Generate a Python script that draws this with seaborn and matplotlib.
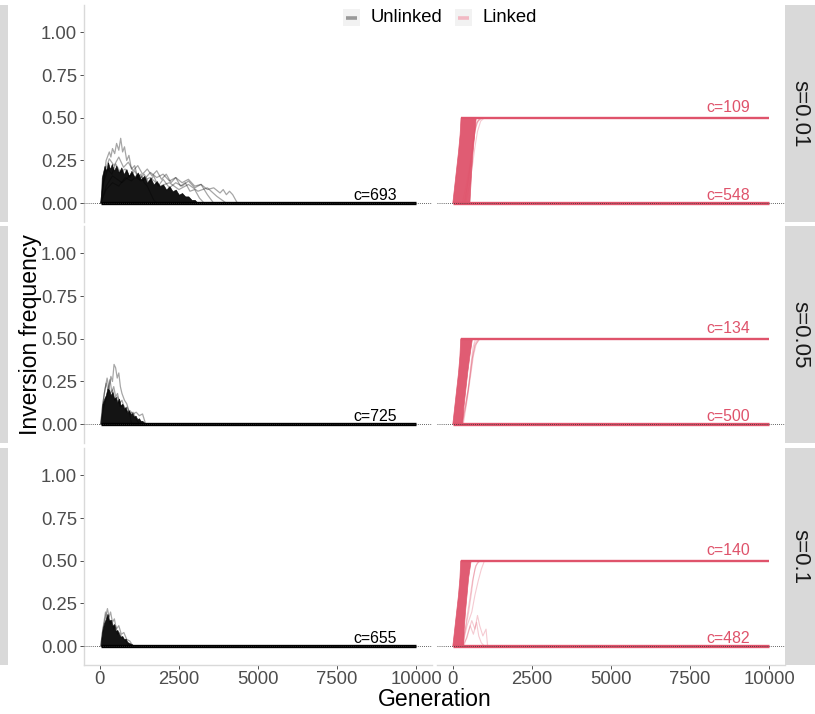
import numpy as np
import pandas as pd
import matplotlib
matplotlib.use("Agg")
import matplotlib.pyplot as plt
import seaborn as sns
from matplotlib.patches import Rectangle
from matplotlib.lines import Line2D

sns.set_theme(style="white")
plt.rcParams['font.family'] = ['Liberation Sans', 'DejaVu Sans']

# ---------------- data ----------------
s_labels = ["s=0.01", "s=0.05", "s=0.1"]
x_ticks = [0, 2500, 5000, 7500, 10000]
y_ticks = [0.0, 0.25, 0.50, 0.75, 1.00]
y_tick_labels = ["0.00", "0.25", "0.50", "0.75", "1.00"]
legend_labels = ["Unlinked", "Linked"]

count_unlinked = [693, 725, 655]
count_linked_fixed = [109, 134, 140]
count_linked_lost = [548, 500, 482]

# upper edge of the dense cloud of unlinked (black) trajectories
unl_env_gen_s001 = [30, 60, 100, 150, 200, 260, 320, 380, 450, 520, 600, 680, 760, 840, 920, 1000,
                    1100, 1200, 1300, 1400, 1500, 1600, 1700, 1800, 1900, 2000, 2100, 2200, 2300,
                    2400, 2500, 2600, 2700, 2800, 2900, 3000, 3100]
unl_env_frq_s001 = [0.0, 0.15, 0.18, 0.22, 0.19, 0.24, 0.20, 0.23, 0.19, 0.22, 0.18, 0.21, 0.17, 0.20,
                    0.16, 0.19, 0.15, 0.18, 0.14, 0.16, 0.12, 0.15, 0.11, 0.13, 0.10, 0.11, 0.08, 0.10,
                    0.07, 0.08, 0.05, 0.06, 0.04, 0.04, 0.02, 0.02, 0.0]
unl_env_gen_s005 = [30, 84, 140, 189, 240, 293, 345, 398, 450, 503, 555, 608, 660, 713, 765, 818, 870,
                    923, 975, 1027, 1080, 1132, 1185, 1237, 1290, 1342, 1400, 1447]
unl_env_frq_s005 = [0.0, 0.12, 0.15, 0.17, 0.21, 0.20, 0.17, 0.19, 0.15, 0.16, 0.13, 0.15, 0.11, 0.12,
                    0.09, 0.10, 0.07, 0.08, 0.06, 0.065, 0.045, 0.05, 0.03, 0.035, 0.02, 0.02, 0.01, 0.0]
unl_env_gen_s01 = [30, 52, 90, 136, 190, 241, 290, 346, 400, 451, 500, 556, 610, 660, 712, 765, 818,
                   870, 920, 975, 1030, 1080]
unl_env_frq_s01 = [0.0, 0.05, 0.10, 0.135, 0.16, 0.19, 0.15, 0.155, 0.12, 0.13, 0.09, 0.095, 0.07,
                   0.055, 0.06, 0.04, 0.045, 0.025, 0.02, 0.015, 0.01, 0.0]

# individual (lighter) unlinked trajectories that stand out above the cloud
unl_runs_s001 = [
    ([30, 100, 200, 300, 350, 400, 470, 530, 600, 660, 720, 780, 850, 920, 1000, 1100, 1200, 1300,
      1400, 1500, 1600, 1700, 1800],
     [0.0, 0.10, 0.25, 0.30, 0.27, 0.32, 0.29, 0.35, 0.31, 0.38, 0.30, 0.33, 0.25, 0.28, 0.20, 0.22,
      0.15, 0.17, 0.12, 0.10, 0.06, 0.02, 0.0]),
    ([30, 200, 400, 600, 800, 1000, 1200, 1400, 1600, 1800, 2000, 2200, 2400, 2600, 2800, 3000,
      3200, 3400, 3600, 3800, 3900, 4000, 4100, 4200, 4350],
     [0.0, 0.08, 0.12, 0.10, 0.15, 0.13, 0.17, 0.14, 0.18, 0.15, 0.17, 0.13, 0.15, 0.12, 0.14, 0.10,
      0.11, 0.08, 0.09, 0.06, 0.08, 0.05, 0.07, 0.05, 0.0]),
    ([30, 150, 300, 450, 600, 750, 900, 1050, 1200, 1350, 1500, 1650, 1800, 1950, 2100, 2250, 2400,
      2550, 2700, 2850, 3000, 3150, 3300],
     [0.0, 0.18, 0.26, 0.22, 0.27, 0.21, 0.24, 0.19, 0.22, 0.17, 0.20, 0.16, 0.19, 0.14, 0.17, 0.12,
      0.15, 0.10, 0.12, 0.07, 0.08, 0.03, 0.0]),
    ([30, 120, 250, 380, 500, 650, 800, 950, 1100, 1250, 1400, 1550, 1700, 1850, 2000, 2200, 2400,
      2600, 2800, 3000, 3200, 3400, 3600],
     [0.0, 0.12, 0.20, 0.17, 0.23, 0.18, 0.20, 0.15, 0.19, 0.14, 0.17, 0.12, 0.16, 0.10, 0.14, 0.09,
      0.12, 0.10, 0.13, 0.09, 0.11, 0.05, 0.0]),
    ([30, 200, 400, 700, 1000, 1300, 1600, 1900, 2200, 2500, 2800, 3100, 3400, 3700, 4000],
     [0.0, 0.10, 0.16, 0.12, 0.17, 0.13, 0.15, 0.10, 0.12, 0.08, 0.11, 0.07, 0.09, 0.04, 0.0]),
]
unl_runs_s005 = [
    ([30, 100, 200, 280, 350, 400, 450, 500, 550, 600, 650, 700, 780, 850, 950, 1000],
     [0.0, 0.08, 0.15, 0.20, 0.28, 0.25, 0.35, 0.33, 0.27, 0.30, 0.22, 0.18, 0.14, 0.12, 0.06, 0.0]),
    ([30, 100, 160, 230, 280, 340, 400, 480, 560, 650, 750, 850, 950, 1050, 1150, 1250, 1350, 1400,
      1450],
     [0.0, 0.12, 0.20, 0.27, 0.22, 0.18, 0.20, 0.14, 0.16, 0.10, 0.11, 0.07, 0.08, 0.06, 0.07, 0.05,
      0.06, 0.03, 0.0]),
    ([30, 80, 140, 200, 260, 320, 380, 440, 500, 560, 620, 700, 780, 860, 950, 1050, 1150, 1250],
     [0.0, 0.10, 0.18, 0.24, 0.20, 0.26, 0.19, 0.22, 0.16, 0.18, 0.12, 0.14, 0.09, 0.10, 0.06, 0.07,
      0.03, 0.0]),
]
unl_runs_s01 = [
    ([30, 100, 170, 241, 290, 340, 400, 460, 520, 600, 680, 760, 850, 950, 1050],
     [0.0, 0.10, 0.16, 0.22, 0.17, 0.20, 0.14, 0.16, 0.10, 0.12, 0.07, 0.08, 0.04, 0.03, 0.0]),
    ([30, 80, 130, 180, 230, 280, 330, 380, 440, 500, 560, 620, 700, 780, 860, 950],
     [0.0, 0.08, 0.14, 0.20, 0.16, 0.18, 0.13, 0.15, 0.10, 0.12, 0.07, 0.08, 0.05, 0.04, 0.02, 0.0]),
]

# outline of the dense bundle of linked (red) trajectories rising to 0.5
lnk_env_gen_s001 = [0, 60, 120, 180, 230, 260, 740, 690, 640, 600, 570, 540]
lnk_env_frq_s001 = [0.0, 0.1, 0.2, 0.3, 0.4, 0.5, 0.5, 0.4, 0.3, 0.2, 0.1, 0.0]
lnk_env_gen_s005 = [0, 60, 120, 180, 225, 250, 620, 540, 470, 410, 350, 310]
lnk_env_frq_s005 = [0.0, 0.1, 0.2, 0.3, 0.4, 0.5, 0.5, 0.4, 0.3, 0.2, 0.1, 0.0]
lnk_env_gen_s01 = [0, 60, 120, 180, 225, 250, 580, 500, 450, 400, 360, 340]
lnk_env_frq_s01 = [0.0, 0.1, 0.2, 0.3, 0.4, 0.5, 0.5, 0.4, 0.3, 0.2, 0.1, 0.0]

# slower (pale) linked trajectories
lnk_slow_s001 = [
    ([300, 420, 520, 600, 680, 760, 870], [0.0, 0.1, 0.2, 0.3, 0.4, 0.47, 0.5]),
    ([350, 480, 580, 650, 720, 800, 950], [0.0, 0.12, 0.25, 0.36, 0.44, 0.48, 0.5]),
    ([400, 520, 620, 700, 780, 880, 1000], [0.0, 0.1, 0.22, 0.33, 0.42, 0.48, 0.5]),
    ([380, 500, 600, 680, 750, 820, 920], [0.0, 0.15, 0.3, 0.42, 0.47, 0.49, 0.5]),
]
lnk_slow_s005 = [
    ([250, 380, 480, 560, 630, 700, 800], [0.0, 0.1, 0.2, 0.3, 0.4, 0.47, 0.5]),
    ([300, 420, 520, 610, 700, 860], [0.0, 0.12, 0.25, 0.38, 0.46, 0.5]),
    ([280, 400, 490, 560, 640, 720], [0.0, 0.1, 0.2, 0.33, 0.45, 0.5]),
    ([330, 450, 560, 650, 740, 830], [0.0, 0.14, 0.28, 0.4, 0.47, 0.5]),
]
lnk_slow_s01 = [
    ([250, 400, 500, 580, 650, 720, 850], [0.0, 0.1, 0.2, 0.3, 0.4, 0.47, 0.5]),
    ([300, 450, 600, 700, 800, 900, 1000], [0.0, 0.12, 0.2, 0.3, 0.38, 0.45, 0.5]),
    ([350, 480, 600, 700, 780, 850, 950, 1050, 1100], [0.0, 0.08, 0.15, 0.10, 0.18, 0.12, 0.06, 0.10, 0.0]),
    ([300, 450, 550, 650, 750, 820, 900, 1000], [0.0, 0.05, 0.12, 0.07, 0.14, 0.06, 0.02, 0.0]),
    ([320, 430, 540, 620, 700, 780, 900], [0.0, 0.15, 0.28, 0.38, 0.45, 0.49, 0.5]),
]

fixed_freq = 0.5
max_gen = 10000

rows = [
    dict(env=(unl_env_gen_s001, unl_env_frq_s001), runs=unl_runs_s001,
         lenv=(lnk_env_gen_s001, lnk_env_frq_s001), slow=lnk_slow_s001),
    dict(env=(unl_env_gen_s005, unl_env_frq_s005), runs=unl_runs_s005,
         lenv=(lnk_env_gen_s005, lnk_env_frq_s005), slow=lnk_slow_s005),
    dict(env=(unl_env_gen_s01, unl_env_frq_s01), runs=unl_runs_s01,
         lenv=(lnk_env_gen_s01, lnk_env_frq_s01), slow=lnk_slow_s01),
]

# ---------------- styling ----------------
RED = "#DF536B"
BLACK = "#000000"
W, H = 815, 714
fig = plt.figure(figsize=(W / 100, H / 100), dpi=100)

row_box = [(5, 222), (226, 443), (448, 665)]
col_box = [(84, 432), (437, 785)]
strip_box = (785, 815)


def fbox(x0, y0, x1, y1):
    return [x0 / W, 1 - y1 / H, (x1 - x0) / W, (y1 - y0) / H]


def runs_df(runs):
    recs = []
    for i, (g, f) in enumerate(runs):
        for gg, ff in zip(g, f):
            recs.append({"gen": gg, "freq": ff, "run": i})
    return pd.DataFrame(recs)


for r, rd in enumerate(rows):
    y0, y1 = row_box[r]
    for c in range(2):
        x0, x1 = col_box[c]
        ax = fig.add_axes(fbox(x0, y0, x1, y1))
        ax.set_xlim(-500, 10500)
        ax.set_ylim(-0.11, 1.16)
        ax.set_facecolor("white")
        if c == 0:
            eg, ef = rd["env"]
            sns.lineplot(data=runs_df(rd["runs"]), x="gen", y="freq", units="run",
                         estimator=None, color=BLACK, alpha=0.35, lw=0.9, ax=ax,
                         legend=False, zorder=2)
            ax.fill_between(eg, 0, ef, color=BLACK, alpha=0.92, lw=0.4, zorder=3)
            ax.plot([eg[0], max_gen], [0, 0], color=BLACK, lw=2.4, solid_capstyle="butt", zorder=4)
            ax.text(8700, 0.02, f"c={count_unlinked[r]}", ha="center", va="baseline",
                    fontsize=11.4, color=BLACK, zorder=6)
        else:
            lg, lf = rd["lenv"]
            sns.lineplot(data=runs_df(rd["slow"]), x="gen", y="freq", units="run",
                         estimator=None, color=RED, alpha=0.3, lw=0.8, ax=ax,
                         legend=False, zorder=2)
            ax.fill(lg, lf, color=RED, alpha=0.95, lw=0.5, zorder=3)
            ax.plot([lg[5], max_gen], [fixed_freq, fixed_freq], color=RED, lw=1.7,
                    solid_capstyle="butt", zorder=4)
            ax.plot([0, max_gen], [0, 0], color=RED, lw=2.4, solid_capstyle="butt", zorder=4)
            ax.text(8700, fixed_freq + 0.035, f"c={count_linked_fixed[r]}", ha="center",
                    va="baseline", fontsize=11.4, color=RED, zorder=6)
            ax.text(8700, 0.02, f"c={count_linked_lost[r]}", ha="center", va="baseline",
                    fontsize=11.4, color=RED, zorder=6)
        ax.axhline(0, color="#333333", lw=0.6, ls=(0, (1, 1.5)), zorder=5)

        ax.set_xlabel("")
        ax.set_ylabel("")
        for sp in ["top", "right"]:
            ax.spines[sp].set_visible(False)
        ax.spines["left"].set_visible(c == 0)
        ax.spines["bottom"].set_visible(r == 2)
        for sp in ["left", "bottom"]:
            ax.spines[sp].set_color("#D9D9D9")
            ax.spines[sp].set_linewidth(1.0)
        ax.grid(False)
        ax.set_xticks(x_ticks)
        ax.set_yticks(y_ticks)
        if c == 0:
            ax.set_yticklabels(y_tick_labels)
            ax.tick_params(axis="y", left=True, length=3, width=0.6, color="#333333",
                           labelsize=13.3, labelcolor="#4D4D4D", pad=2)
        else:
            ax.tick_params(axis="y", left=False, labelleft=False)
        if r == 2:
            ax.set_xticklabels([str(v) for v in x_ticks])
            ax.tick_params(axis="x", bottom=True, length=3, width=0.6, color="#333333",
                           labelsize=13.3, labelcolor="#4D4D4D", pad=1)
        else:
            ax.tick_params(axis="x", bottom=False, labelbottom=False)

    # right strip
    sx0, sx1 = strip_box
    fig.add_artist(Rectangle((sx0 / W, 1 - y1 / H), (sx1 - sx0) / W, (y1 - y0) / H,
                             transform=fig.transFigure, facecolor="#D9D9D9", edgecolor="none"))
    fig.text((sx0 + sx1) / 2 / W, 1 - (y0 + y1) / 2 / H, s_labels[r], rotation=-90,
             ha="center", va="center", fontsize=16, color="#1A1A1A")
    # left strip (cut off at the figure edge in the reference)
    fig.add_artist(Rectangle((0, 1 - y1 / H), 8 / W, (y1 - y0) / H,
                             transform=fig.transFigure, facecolor="#D9D9D9", edgecolor="none"))

# axis titles
fig.text(434.5 / W, 1 - 699 / H, "Generation", ha="center", va="center", fontsize=16.6,
         color="black")
fig.text(30 / W, 1 - 335 / H, "Inversion frequency", ha="center", va="center",
         rotation=90, fontsize=16.6, color="black")

# legend (ggplot-style keys)
key_specs = [(343, 371, "#999999"), (455, 483, "#F2B9C4")]
for (kx, tx, kc), lab in zip(key_specs, legend_labels):
    fig.add_artist(Rectangle((kx / W, 1 - 26 / H), 17 / W, 17 / H, transform=fig.transFigure,
                             facecolor="#F2F2F2", edgecolor="none"))
    fig.add_artist(Line2D([(kx + 3) / W, (kx + 14) / W], [1 - 17.5 / H, 1 - 17.5 / H],
                          transform=fig.transFigure, color=kc, lw=2.6, solid_capstyle="butt"))
    fig.text(tx / W, 1 - 17.5 / H, lab, ha="left", va="center", fontsize=13.3, color="black")

fig.savefig("out.png", dpi=100, facecolor="white")
